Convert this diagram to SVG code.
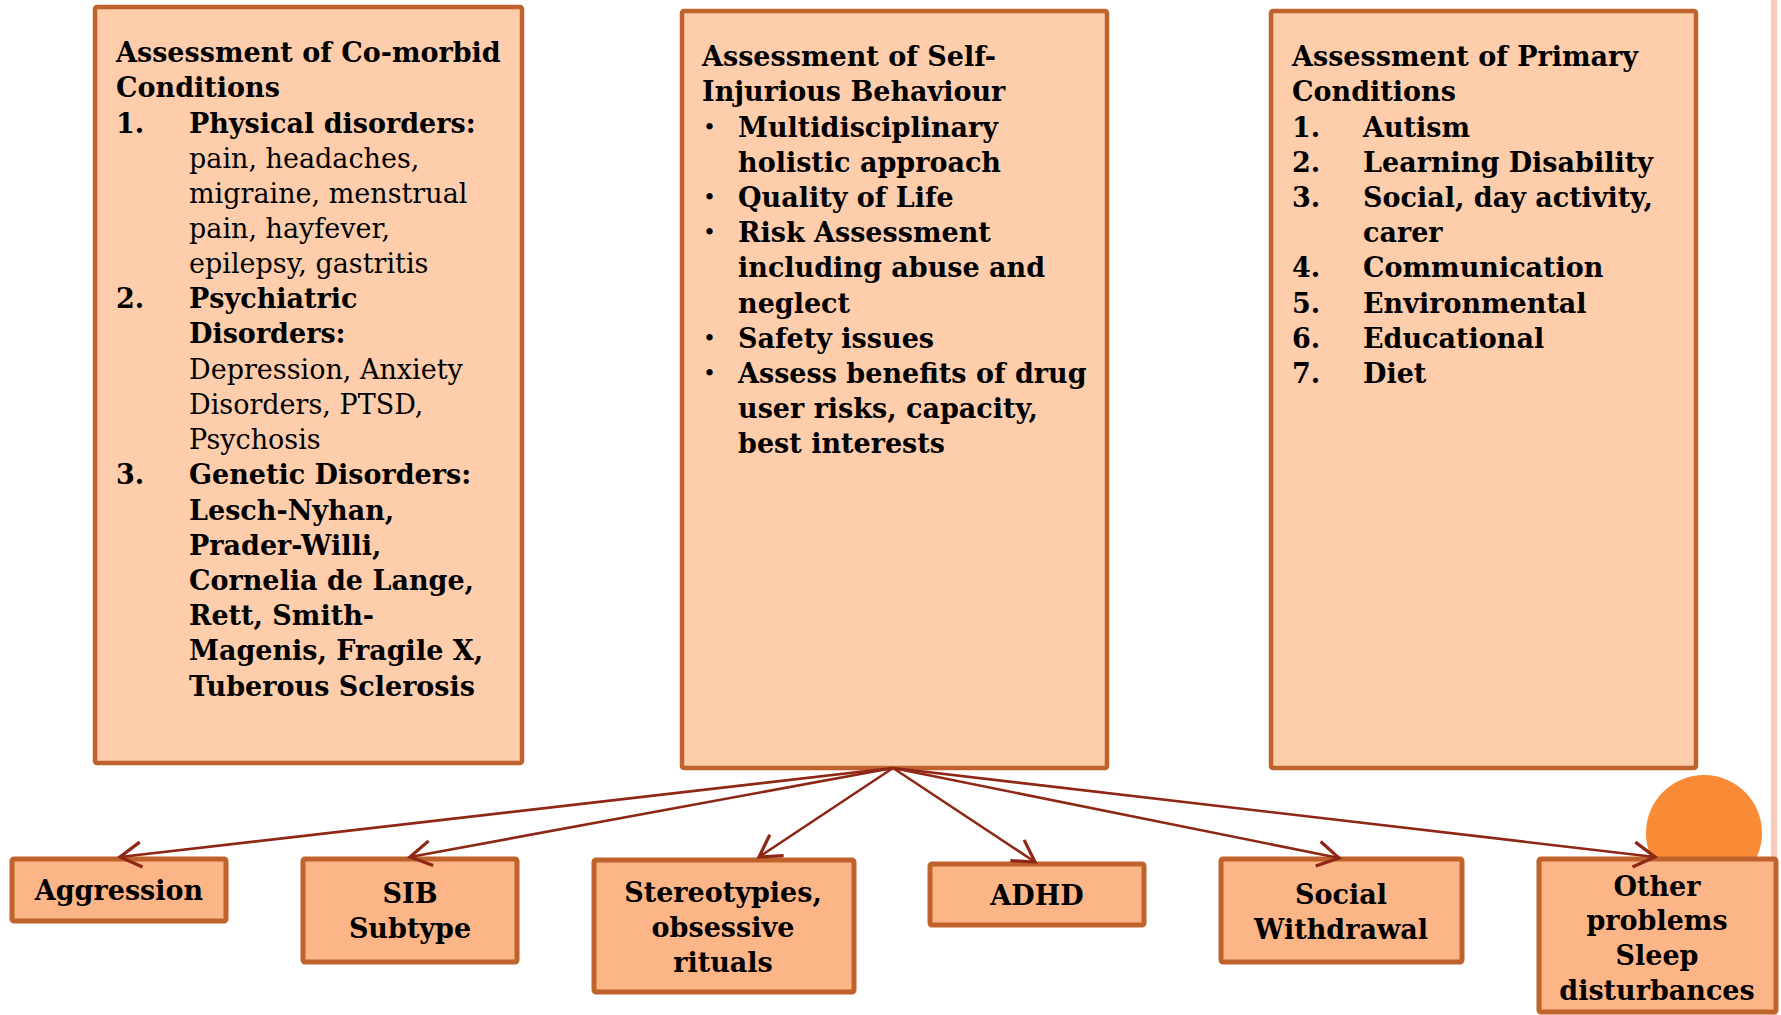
<svg xmlns="http://www.w3.org/2000/svg" width="1781" height="1015" viewBox="0 0 1781 1015">
<defs>
<style>
.top{fill:#FDCDAC;stroke:#C0622B;stroke-width:4.5}
.bot{fill:#FCB586;stroke:#C0622B;stroke-width:5}
text{font-family:"DejaVu Serif","Liberation Serif",serif;font-size:27px;fill:#000}
.b{font-weight:bold}
.r{font-weight:normal}
.bul{font-weight:normal;font-size:22px}
.c{text-anchor:middle;font-weight:bold}
.con{stroke:#8E2716;stroke-width:2.6;fill:none}
</style>
<marker id="arr" markerUnits="userSpaceOnUse" markerWidth="30" markerHeight="30" viewBox="-20 -12 22 24" refX="0" refY="0" orient="auto">
<path d="M -17 -10 L 0 0 L -17 10" fill="none" stroke="#8E2716" stroke-width="2.6"/>
</marker>
</defs>
<rect x="1771" y="0" width="6" height="1015" fill="#FDC9B9"/>
<circle cx="1704" cy="833" r="58" fill="#F98A36"/>
<g id="comorbid">
<rect class="top" x="95" y="7" width="427" height="756" rx="2"/>
<text class="b" x="116" y="62">Assessment of Co-morbid</text>
<text class="b" x="116" y="97">Conditions</text>
<text class="b" x="116" y="133">1.</text><text class="b" x="189" y="133">Physical disorders:</text>
<text class="r" x="189" y="168">pain, headaches,</text>
<text class="r" x="189" y="203">migraine, menstrual</text>
<text class="r" x="189" y="238">pain, hayfever,</text>
<text class="r" x="189" y="273">epilepsy, gastritis</text>
<text class="b" x="116" y="308">2.</text><text class="b" x="189" y="308">Psychiatric</text>
<text class="b" x="189" y="343">Disorders:</text>
<text class="r" x="189" y="379">Depression, Anxiety</text>
<text class="r" x="189" y="414">Disorders, PTSD,</text>
<text class="r" x="189" y="449">Psychosis</text>
<text class="b" x="116" y="484">3.</text><text class="b" x="189" y="484">Genetic Disorders:</text>
<text class="b" x="189" y="520">Lesch-Nyhan,</text>
<text class="b" x="189" y="555">Prader-Willi,</text>
<text class="b" x="189" y="590">Cornelia de Lange,</text>
<text class="b" x="189" y="625">Rett, Smith-</text>
<text class="b" x="189" y="660">Magenis, Fragile X,</text>
<text class="b" x="189" y="696">Tuberous Sclerosis</text>
</g>
<g id="sib-assessment">
<rect class="top" x="682" y="11" width="425" height="757" rx="2"/>
<text class="b" x="702" y="66">Assessment of Self-</text>
<text class="b" x="702" y="101">Injurious Behaviour</text>
<text class="bul" x="703" y="135">•</text><text class="b" x="738" y="137">Multidisciplinary</text>
<text class="b" x="738" y="172">holistic approach</text>
<text class="bul" x="703" y="205">•</text><text class="b" x="738" y="207">Quality of Life</text>
<text class="bul" x="703" y="240">•</text><text class="b" x="738" y="242">Risk Assessment</text>
<text class="b" x="738" y="277">including abuse and</text>
<text class="b" x="738" y="313">neglect</text>
<text class="bul" x="703" y="346">•</text><text class="b" x="738" y="348">Safety issues</text>
<text class="bul" x="703" y="381">•</text><text class="b" x="738" y="383">Assess benefits of drug</text>
<text class="b" x="738" y="418">user risks, capacity,</text>
<text class="b" x="738" y="453">best interests</text>
</g>
<g id="primary">
<rect class="top" x="1271" y="11" width="425" height="757" rx="2"/>
<text class="b" x="1292" y="66">Assessment of Primary</text>
<text class="b" x="1292" y="101">Conditions</text>
<text class="b" x="1292" y="137">1.</text><text class="b" x="1363" y="137">Autism</text>
<text class="b" x="1292" y="172">2.</text><text class="b" x="1363" y="172">Learning Disability</text>
<text class="b" x="1292" y="207">3.</text><text class="b" x="1363" y="207">Social, day activity,</text>
<text class="b" x="1363" y="242">carer</text>
<text class="b" x="1292" y="277">4.</text><text class="b" x="1363" y="277">Communication</text>
<text class="b" x="1292" y="313">5.</text><text class="b" x="1363" y="313">Environmental</text>
<text class="b" x="1292" y="348">6.</text><text class="b" x="1363" y="348">Educational</text>
<text class="b" x="1292" y="383">7.</text><text class="b" x="1363" y="383">Diet</text>
</g>
<g id="aggression">
<rect class="bot" x="12" y="859" width="214" height="62" rx="2"/>
<text class="c" x="119" y="900">Aggression</text>
</g>
<g id="sib-subtype">
<rect class="bot" x="303" y="859" width="214" height="103" rx="2"/>
<text class="c" x="410" y="903">SIB</text>
<text class="c" x="410" y="938">Subtype</text>
</g>
<g id="stereotypies">
<rect class="bot" x="594" y="860" width="260" height="132" rx="2"/>
<text class="c" x="723" y="902">Stereotypies,</text>
<text class="c" x="723" y="937">obsessive</text>
<text class="c" x="723" y="972">rituals</text>
</g>
<g id="adhd">
<rect class="bot" x="930" y="864" width="214" height="61" rx="2"/>
<text class="c" x="1037" y="905">ADHD</text>
</g>
<g id="social">
<rect class="bot" x="1221" y="859" width="241" height="103" rx="2"/>
<text class="c" x="1341" y="904">Social</text>
<text class="c" x="1341" y="939">Withdrawal</text>
</g>
<g id="other">
<rect class="bot" x="1539" y="859" width="237" height="153" rx="2"/>
<text class="c" x="1657" y="896">Other</text>
<text class="c" x="1657" y="930">problems</text>
<text class="c" x="1657" y="965">Sleep</text>
<text class="c" x="1657" y="1000">disturbances</text>
</g>
<g id="connectors">
<line class="con" x1="893" y1="768" x2="120" y2="857" marker-end="url(#arr)"/>
<line class="con" x1="893" y1="768" x2="410" y2="857" marker-end="url(#arr)"/>
<line class="con" x1="893" y1="768" x2="759" y2="857" marker-end="url(#arr)"/>
<line class="con" x1="893" y1="768" x2="1035" y2="862" marker-end="url(#arr)"/>
<line class="con" x1="893" y1="768" x2="1339" y2="858" marker-end="url(#arr)"/>
<line class="con" x1="893" y1="768" x2="1655" y2="857" marker-end="url(#arr)"/>
</g>
</svg>
